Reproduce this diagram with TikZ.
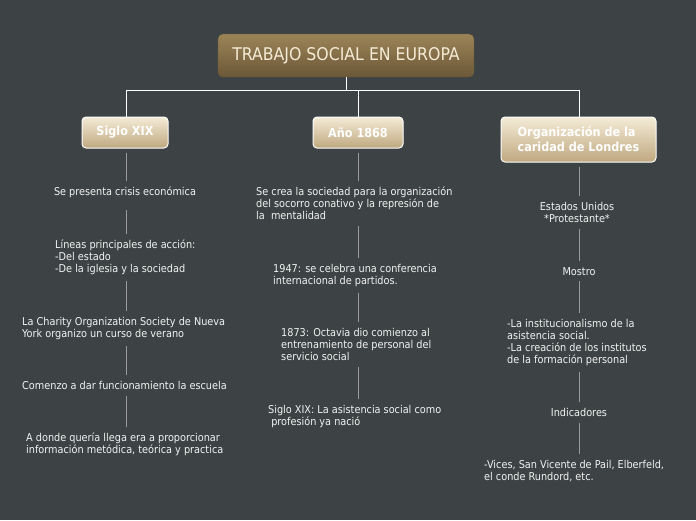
\documentclass[tikz,border=0pt]{standalone}
\usepackage{fontspec}
\setmainfont{DejaVu Sans Condensed}
\definecolor{bg}{HTML}{3D4344}
\definecolor{tt}{HTML}{9C8458}
\definecolor{tb}{HTML}{6C5838}
\definecolor{st}{HTML}{F4EBD6}
\definecolor{sb}{HTML}{BFA880}
\definecolor{ln}{HTML}{9A9A9A}
\definecolor{txt}{HTML}{F2F2F2}
\begin{document}
\begin{tikzpicture}[x=1pt,y=-1pt,
  titlebox/.style={draw=tt!70!black,rounded corners=5pt,top color=tt,bottom color=tb,text=st,font=\fontsize{17.5}{20}\selectfont,minimum width=256pt,minimum height=43pt},
  subbox/.style={draw=white,line width=1pt,rounded corners=4pt,top color=st,bottom color=sb,text=white,font=\bfseries\fontsize{12.5}{15}\selectfont,align=left,inner xsep=8pt},
  leaf/.style={text=txt,font=\fontsize{10.8}{12}\selectfont,align=left,inner xsep=0pt,inner ysep=6pt},
  cleaf/.style={leaf,align=center},
  wire/.style={white,line width=1pt},
  thin/.style={ln,line width=0.6pt}]
\fill[bg] (0,0) rectangle (696,520);
\useasboundingbox (0,0) rectangle (696,520);
\node[titlebox] (t) at (346,55.5) {TRABAJO SOCIAL EN EUROPA};
\node[subbox,minimum width=86pt,minimum height=31pt] (s1) at (125,132.5) {Siglo XIX};
\node[subbox,minimum width=90pt,minimum height=31pt] (s2) at (358,132.5) {Año 1868};
\node[subbox,minimum width=155pt,minimum height=45pt] (s3) at (578.5,139.5) {Organización de la\\caridad de Londres};
\coordinate (j) at (346,90);
\draw[wire] (t.south) -- (j) -- (126,90) -- (s1.north -| 126,0);
\draw[wire] (j) -- (579,90) -- (s3.north -| 579,0);
\draw[wire] (358,90) -- (s2.north);
% column 1
\node[cleaf,anchor=north] (a1) at (125,181) {Se presenta crisis económica};
\node[leaf,anchor=north west] (a2) at (55,234) {Líneas principales de acción:\\-Del estado\\-De la iglesia y la sociedad};
\node[leaf,anchor=north west] (a3) at (22,311) {La Charity Organization Society de Nueva\\York organizo un curso de verano};
\node[leaf,anchor=north west] (a4) at (22,375) {Comenzo a dar funcionamiento la escuela};
\node[leaf,anchor=north west] (a5) at (26,427) {A donde quería llega era a proporcionar\\información metódica, teórica y practica};
\draw[thin] (s1.south -| 126,0) ++(0,4) -- (a1.north -| 126,0);
\draw[thin] (a1.south -| 126,0) ++(0,6) -- (a2.north -| 126,0);
\draw[thin] (a2.south -| 126,0) -- (a3.north -| 126,0);
\draw[thin] (a3.south -| 126,0) -- (a4.north -| 126,0);
\draw[thin] (a4.south -| 126,0) -- (a5.north -| 126,0);
% column 2
\node[leaf,anchor=north west] (b1) at (256,181) {Se crea la sociedad para la organización\\del socorro conativo y la represión de\\la\ \ mentalidad};
\node[leaf,anchor=north west] (b2) at (273,258) {1947: se celebra una conferencia\\internacional de partidos.};
\node[leaf,anchor=north west] (b3) at (281,322) {1873: Octavia dio comienzo al\\entrenamiento de personal del\\servicio social};
\node[leaf,anchor=north west] (b4) at (268,399) {Siglo XIX: La asistencia social como\\\ profesión ya nació};
\draw[thin] (s2.south) ++(0,4) -- (b1.north -| s2.south);
\draw[thin] (b1.south -| 358,0) -- (b2.north -| 358,0);
\draw[thin] (b2.south -| 358,0) -- (b3.north -| 358,0);
\draw[thin] (b3.south -| 358,0) -- (b4.north -| 358,0);
% column 3
\node[cleaf,anchor=north] (c1) at (577,196) {Estados Unidos\\*Protestante*};
\node[cleaf,anchor=north] (c2) at (579,261) {Mostro};
\node[leaf,anchor=north west] (c3) at (507,313) {-La institucionalismo de la\\asistencia social.\\-La creación de los institutos\\de la formación personal};
\node[cleaf,anchor=north] (c4) at (579,402) {Indicadores};
\node[leaf,anchor=north west] (c5) at (484,454) {-Vices, San Vicente de Pail, Elberfeld,\\el conde Rundord, etc.};
\draw[thin] (s3.south -| 579,0) ++(0,4) -- (c1.north -| 579,0);
\draw[thin] (c1.south -| 579,0) -- (c2.north -| 579,0);
\draw[thin] (c2.south -| 579,0) -- (c3.north -| 579,0);
\draw[thin] (c3.south -| 579,0) -- (c4.north -| 579,0);
\draw[thin] (c4.south -| 579,0) -- (c5.north -| 579,0);
\end{tikzpicture}
\end{document}
